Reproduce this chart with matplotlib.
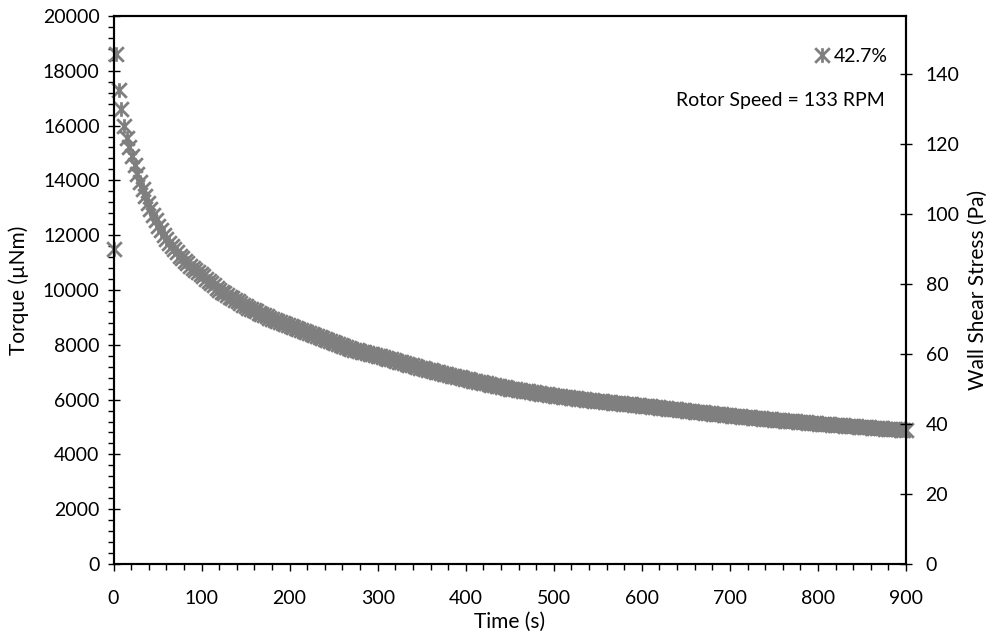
# Torque decay at constant rotor speed, with wall shear stress on a second axis
import matplotlib
matplotlib.use("Agg")
import matplotlib.pyplot as plt
from matplotlib.path import Path
from matplotlib.ticker import MultipleLocator

plt.rcParams['font.family'] = ['Lato', 'DejaVu Sans']

# === data: one reading every 3 s, torque in µNm ===
time_step = 3
torque = [
    11500, 18600, 17300, 16600, 16000, 15550, 15200, 14900, 14550, 14250,
    13950, 13690, 13440, 13190, 12960, 12750, 12540, 12345, 12180, 12015,
    11850, 11730, 11610, 11490, 11370, 11250, 11160, 11070, 10980, 10890,
    10800, 10725, 10650, 10575, 10495, 10410, 10330, 10250, 10165, 10080,
    10000, 9940, 9880, 9820, 9760, 9700, 9640, 9580, 9520, 9460,
    9400, 9355, 9310, 9265, 9220, 9175, 9130, 9085, 9040, 8995,
    8950, 8912, 8875, 8838, 8800, 8762, 8725, 8688, 8650, 8612,
    8575, 8538, 8500, 8462, 8425, 8388, 8350, 8312, 8275, 8238,
    8200, 8165, 8130, 8095, 8060, 8025, 7990, 7955, 7920, 7885,
    7850, 7825, 7800, 7775, 7750, 7725, 7700, 7675, 7650, 7625,
    7600, 7573, 7546, 7519, 7492, 7465, 7438, 7411, 7384, 7357,
    7330, 7303, 7276, 7249, 7222, 7195, 7168, 7142, 7118, 7094,
    7070, 7046, 7022, 6998, 6974, 6950, 6926, 6902, 6878, 6854,
    6830, 6806, 6782, 6758, 6736, 6715, 6694, 6673, 6652, 6631,
    6610, 6589, 6568, 6547, 6526, 6505, 6484, 6463, 6442, 6421,
    6400, 6385, 6370, 6355, 6340, 6325, 6310, 6295, 6280, 6265,
    6250, 6235, 6220, 6205, 6190, 6175, 6160, 6146, 6134, 6122,
    6110, 6098, 6086, 6074, 6062, 6050, 6038, 6026, 6014, 6002,
    5990, 5978, 5966, 5954, 5943, 5933, 5923, 5913, 5902, 5892,
    5882, 5872, 5862, 5851, 5841, 5831, 5821, 5811, 5800, 5790,
    5780, 5769, 5758, 5748, 5737, 5726, 5715, 5704, 5694, 5683,
    5672, 5661, 5650, 5640, 5629, 5618, 5607, 5596, 5586, 5575,
    5564, 5553, 5542, 5532, 5521, 5510, 5499, 5488, 5478, 5467,
    5456, 5445, 5434, 5424, 5414, 5405, 5396, 5387, 5378, 5369,
    5360, 5351, 5342, 5333, 5324, 5315, 5306, 5297, 5288, 5279,
    5270, 5262, 5253, 5245, 5236, 5228, 5220, 5211, 5203, 5194,
    5186, 5178, 5169, 5161, 5152, 5144, 5136, 5127, 5120, 5112,
    5104, 5096, 5088, 5081, 5073, 5065, 5057, 5050, 5042, 5034,
    5026, 5018, 5011, 5003, 4996, 4989, 4982, 4976, 4969, 4963,
    4956, 4949, 4943, 4936, 4930, 4923, 4916, 4910, 4903, 4897,
    4890,
]
time_s = [i * time_step for i in range(len(torque))]

series_label = "42.7%"
note = "Rotor Speed = 133 RPM"
torque_max = 20000
stress_max = 156.6  # wall shear stress matching 20000 µNm

# Excel-style star marker: an X with a vertical bar
star = Path(
    [(-1, -1), (1, 1), (-1, 1), (1, -1), (0, -1), (0, 1)],
    [Path.MOVETO, Path.LINETO, Path.MOVETO, Path.LINETO, Path.MOVETO, Path.LINETO],
)

fs = 14      # tick labels and notes
fs_lab = 15  # axis titles
fig = plt.figure(figsize=(9.87, 6.38), dpi=100)
ax = fig.add_axes([0.115, 0.116, 0.803, 0.859])
ax.plot(time_s, torque, linestyle="none", marker=star, markersize=10.5,
        markeredgewidth=2.0, color="#7f7f7f", label=series_label, clip_on=False, zorder=3)

ax.set_xlim(0, 900)
ax.set_ylim(0, torque_max)
ax.xaxis.set_major_locator(MultipleLocator(100))
ax.xaxis.set_minor_locator(MultipleLocator(20))
ax.yaxis.set_major_locator(MultipleLocator(2000))
ax.yaxis.set_minor_locator(MultipleLocator(400))
ax.tick_params(axis="x", which="major", direction="out", length=5, width=1, labelsize=fs, pad=14)
ax.tick_params(axis="x", which="minor", direction="out", length=4, width=1)
ax.tick_params(axis="y", which="major", direction="inout", length=8, width=1, labelsize=fs, pad=6)
ax.tick_params(axis="y", which="minor", direction="out", length=4, width=1)
ax.set_xlabel("Time (s)", fontsize=fs_lab, labelpad=3)
ax.set_ylabel("Torque (µNm)", fontsize=fs_lab, labelpad=10)

ax2 = ax.twinx()
ax2.set_ylim(0, stress_max)
ax2.yaxis.set_major_locator(MultipleLocator(20))
ax2.tick_params(axis="y", which="major", direction="inout", length=8, width=1, labelsize=fs, pad=10)
ax2.set_ylabel("Wall Shear Stress (Pa)", fontsize=fs_lab, labelpad=6)

for a in (ax, ax2):
    for s in a.spines.values():
        s.set_linewidth(1.5)

leg = ax.legend(loc="upper right", bbox_to_anchor=(0.989, 0.96), frameon=False,
                handlelength=0.8, handletextpad=0.2, borderpad=0, fontsize=fs)
ax.text(0.973, 0.845, note, transform=ax.transAxes, ha="right", va="center", fontsize=fs)

fig.savefig("out.png", dpi=100)
